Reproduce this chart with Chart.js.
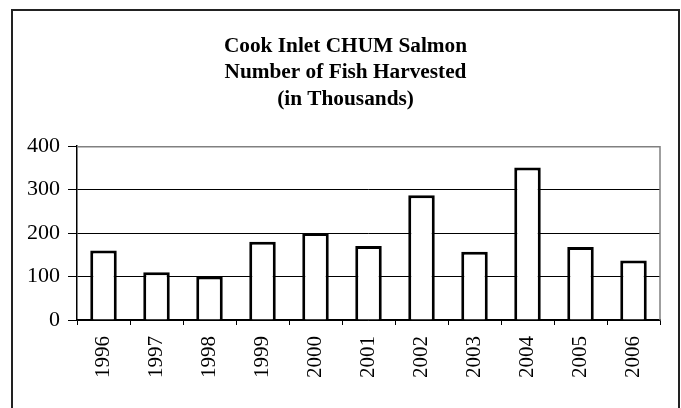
<!DOCTYPE html>
<html>
<head>
<meta charset="utf-8">
<script src="https://cdn.jsdelivr.net/npm/chart.js@4/dist/chart.umd.min.js"></script>
<style>
html,body{margin:0;padding:0;background:#fff;}
#wrap{width:681px;height:408px;position:relative;}
</style>
</head>
<body>
<div id="wrap"><canvas id="c" width="681" height="408"></canvas></div>
<script>
const years = ['1996','1997','1998','1999','2000','2001','2002','2003','2004','2005','2006'];
const harvest = [160, 110, 100, 180, 200, 170, 287, 157, 351, 168, 137];
const titleLines = ['Cook Inlet CHUM Salmon', 'Number of Fish Harvested', '(in Thousands)'];
const yTicks = [0, 100, 200, 300, 400];

const frame = {
  id: 'frame',
  afterLayout(chart) {
    const t = chart.titleBlock;
    if (t) { t.left = 12; t.right = 679; t.width = 667; }
  },
  afterDraw(chart) {
    const ctx = chart.ctx;
    const a = chart.chartArea;
    ctx.save();
    ctx.strokeStyle = '#808080';
    ctx.lineWidth = 1.5;
    ctx.beginPath();
    ctx.moveTo(a.left, a.top + 0.5);
    ctx.lineTo(a.right, a.top + 0.5);
    ctx.lineTo(a.right, a.bottom);
    ctx.stroke();
    ctx.strokeStyle = '#222';
    ctx.lineWidth = 2;
    ctx.strokeRect(12, 10, 667, 420);
    ctx.restore();
  }
};

new Chart(document.getElementById('c'), {
  type: 'bar',
  data: {
    labels: years,
    datasets: [{
      data: harvest,
      backgroundColor: '#ffffff',
      borderColor: '#000000',
      borderWidth: 3,
      barPercentage: 0.5,
      categoryPercentage: 1.0
    }]
  },
  options: {
    responsive: false,
    animation: false,
    layout: { padding: { top: 20, right: 21, left: 0, bottom: 0 } },
    plugins: {
      legend: { display: false },
      tooltip: { enabled: false },
      title: {
        display: true,
        text: titleLines,
        color: '#000',
        font: { family: '"Liberation Serif", "Times New Roman", serif', size: 21.3, weight: 'bold', lineHeight: 1.245 },
        padding: { top: 13, bottom: 33.6 }
      }
    },
    scales: {
      x: {
        afterFit(s) { s.height = 88; },
        grid: { display: true, drawOnChartArea: false, color: '#000', tickLength: 5, tickColor: '#000', offset: true },
        border: { display: true, color: '#000', width: 1.5 },
        ticks: {
          color: '#000', minRotation: 90, maxRotation: 90, padding: 11, autoSkip: false,
          font: { family: '"Liberation Serif", "Times New Roman", serif', size: 21 }
        }
      },
      y: {
        min: 0, max: 400,
        afterFit(s) { s.width = 77; },
        afterBuildTicks(s) { s.ticks = yTicks.map(v => ({ value: v })); },
        grid: {
          color: (c) => (c.tick && c.tick.value === 400) ? '#808080' : '#000',
          lineWidth: 1,
          tickLength: 9,
          tickColor: '#000'
        },
        border: { display: true, color: '#000', width: 1.5 },
        ticks: {
          color: '#000', padding: 8,
          font: { family: '"Liberation Serif", "Times New Roman", serif', size: 22 }
        }
      }
    }
  },
  plugins: [frame]
});
</script>
</body>
</html>
